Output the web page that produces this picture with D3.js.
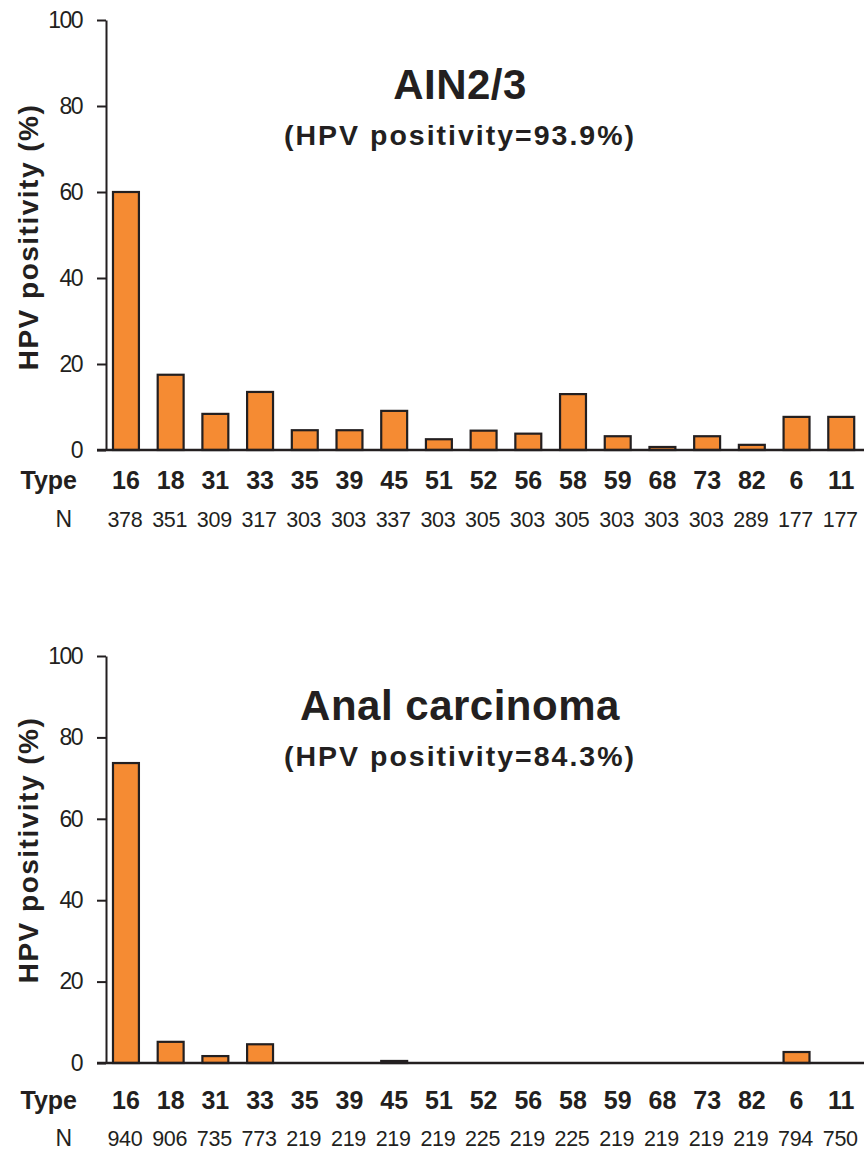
<!DOCTYPE html>
<html>
<head>
<meta charset="utf-8">
<script src="https://cdn.jsdelivr.net/npm/d3@7"></script>
<style>
  html, body { margin: 0; padding: 0; background: #fff; }
  svg text { font-family: "Liberation Sans", Arial, Helvetica, sans-serif; fill: #231f20; }
</style>
</head>
<body>
<svg id="chart" width="864" height="1151"></svg>
<script>
// ---- data ----
const types = ["16","18","31","33","35","39","45","51","52","56","58","59","68","73","82","6","11"];
const yTicks = [0, 20, 40, 60, 80, 100];

const ainValues = [60, 17.5, 8.4, 13.5, 4.6, 4.6, 9.1, 2.5, 4.5, 3.8, 13.0, 3.2, 0.7, 3.2, 1.2, 7.7, 7.7];
const ainN = [378, 351, 309, 317, 303, 303, 337, 303, 305, 303, 305, 303, 303, 303, 289, 177, 177];

const ancValues = [73.7, 5.2, 1.7, 4.6, 0, 0, 0.5, 0, 0, 0, 0, 0, 0, 0, 0, 2.7, 0];
const ancN = [940, 906, 735, 773, 219, 219, 219, 219, 225, 219, 225, 219, 219, 219, 219, 794, 750];

const panels = [
  { title: "AIN2/3", subtitle: "(HPV positivity=93.9%)", values: ainValues, n: ainN,
    top: 20, bottom: 450, titleY: 99, subY: 145, typeY: 489, nY: 527, labelY: 237 },
  { title: "Anal carcinoma", subtitle: "(HPV positivity=84.3%)", values: ancValues, n: ancN,
    top: 656, bottom: 1063, titleY: 720, subY: 766, typeY: 1109, nY: 1146, labelY: 850 }
];

const svg = d3.select("#chart");
const ink = "#231f20";
const orange = "#f58b33";
const axisX = 106;
const W = 864;

const x = d3.scaleBand().domain(types).range([103.6, 863.6]).paddingInner(0.42).paddingOuter(0.21);

panels.forEach(p => {
  const g = svg.append("g");
  const y = d3.scaleLinear().domain([0, 100]).range([p.bottom, p.top]);

  // bars
  g.selectAll("rect.bar")
    .data(types.map((t, i) => ({ t, v: p.values[i] })).filter(d => d.v > 0))
    .join("rect")
    .attr("class", "bar")
    .attr("x", d => x(d.t))
    .attr("width", x.bandwidth())
    .attr("y", d => y(d.v))
    .attr("height", d => y(0) - y(d.v))
    .attr("fill", orange)
    .attr("stroke", ink)
    .attr("stroke-width", 2.2);

  // y axis
  const ya = d3.axisLeft(y).tickValues(yTicks).tickSize(9).tickSizeOuter(0).tickPadding(15);
  const yg = g.append("g").attr("transform", `translate(${axisX},0)`).call(ya);
  yg.attr("font-size", null).attr("font-family", null);
  yg.select(".domain").attr("stroke", ink).attr("stroke-width", 2);
  yg.selectAll(".tick line").attr("stroke", ink).attr("stroke-width", 2);
  yg.selectAll(".tick text")
    .style("font-size", "23px").attr("letter-spacing", "-1.5px").attr("fill", ink);

  // x baseline
  g.append("line")
    .attr("x1", axisX - 9).attr("x2", W)
    .attr("y1", y(0)).attr("y2", y(0))
    .attr("stroke", ink).attr("stroke-width", 2.4);

  // type labels via axis
  const xa = d3.axisBottom(x).tickSize(0).tickPadding(0);
  const xg = g.append("g").attr("transform", `translate(0,${p.typeY})`).call(xa);
  xg.attr("font-size", null).attr("font-family", null);
  xg.select(".domain").remove();
  xg.selectAll(".tick text")
    .attr("dy", 0).attr("y", 0)
    .style("font-size", "25px").style("font-weight", "bold").attr("fill", ink);

  g.append("text").attr("x", 77).attr("y", p.typeY).attr("text-anchor", "end")
    .style("font-size", "25px").style("font-weight", "bold").text("Type");

  // N row
  g.selectAll("text.n")
    .data(types.map((t, i) => ({ t, n: p.n[i] })))
    .join("text").attr("class", "n")
    .attr("x", d => x(d.t) + x.bandwidth() / 2 - 1)
    .attr("y", p.nY)
    .attr("text-anchor", "middle")
    .style("font-size", "21.5px")
    .attr("letter-spacing", "-0.3px")
    .text(d => d.n);

  g.append("text").attr("x", 72).attr("y", p.nY).attr("text-anchor", "end")
    .style("font-size", "23px").text("N");

  // y axis label
  g.append("text")
    .attr("transform", `translate(38,${p.labelY}) rotate(-90)`)
    .attr("text-anchor", "middle")
    .style("font-size", "28px").style("font-weight", "bold").attr("letter-spacing", "1.5px")
    .text("HPV positivity (%)");

  // titles
  g.append("text").attr("x", 460).attr("y", p.titleY).attr("text-anchor", "middle")
    .style("font-size", "42px").style("font-weight", "bold").attr("letter-spacing", "0.5px")
    .text(p.title);
  g.append("text").attr("x", 460).attr("y", p.subY).attr("text-anchor", "middle")
    .style("font-size", "28.5px").style("font-weight", "bold").attr("letter-spacing", "2px")
    .text(p.subtitle);
});
</script>
</body>
</html>
